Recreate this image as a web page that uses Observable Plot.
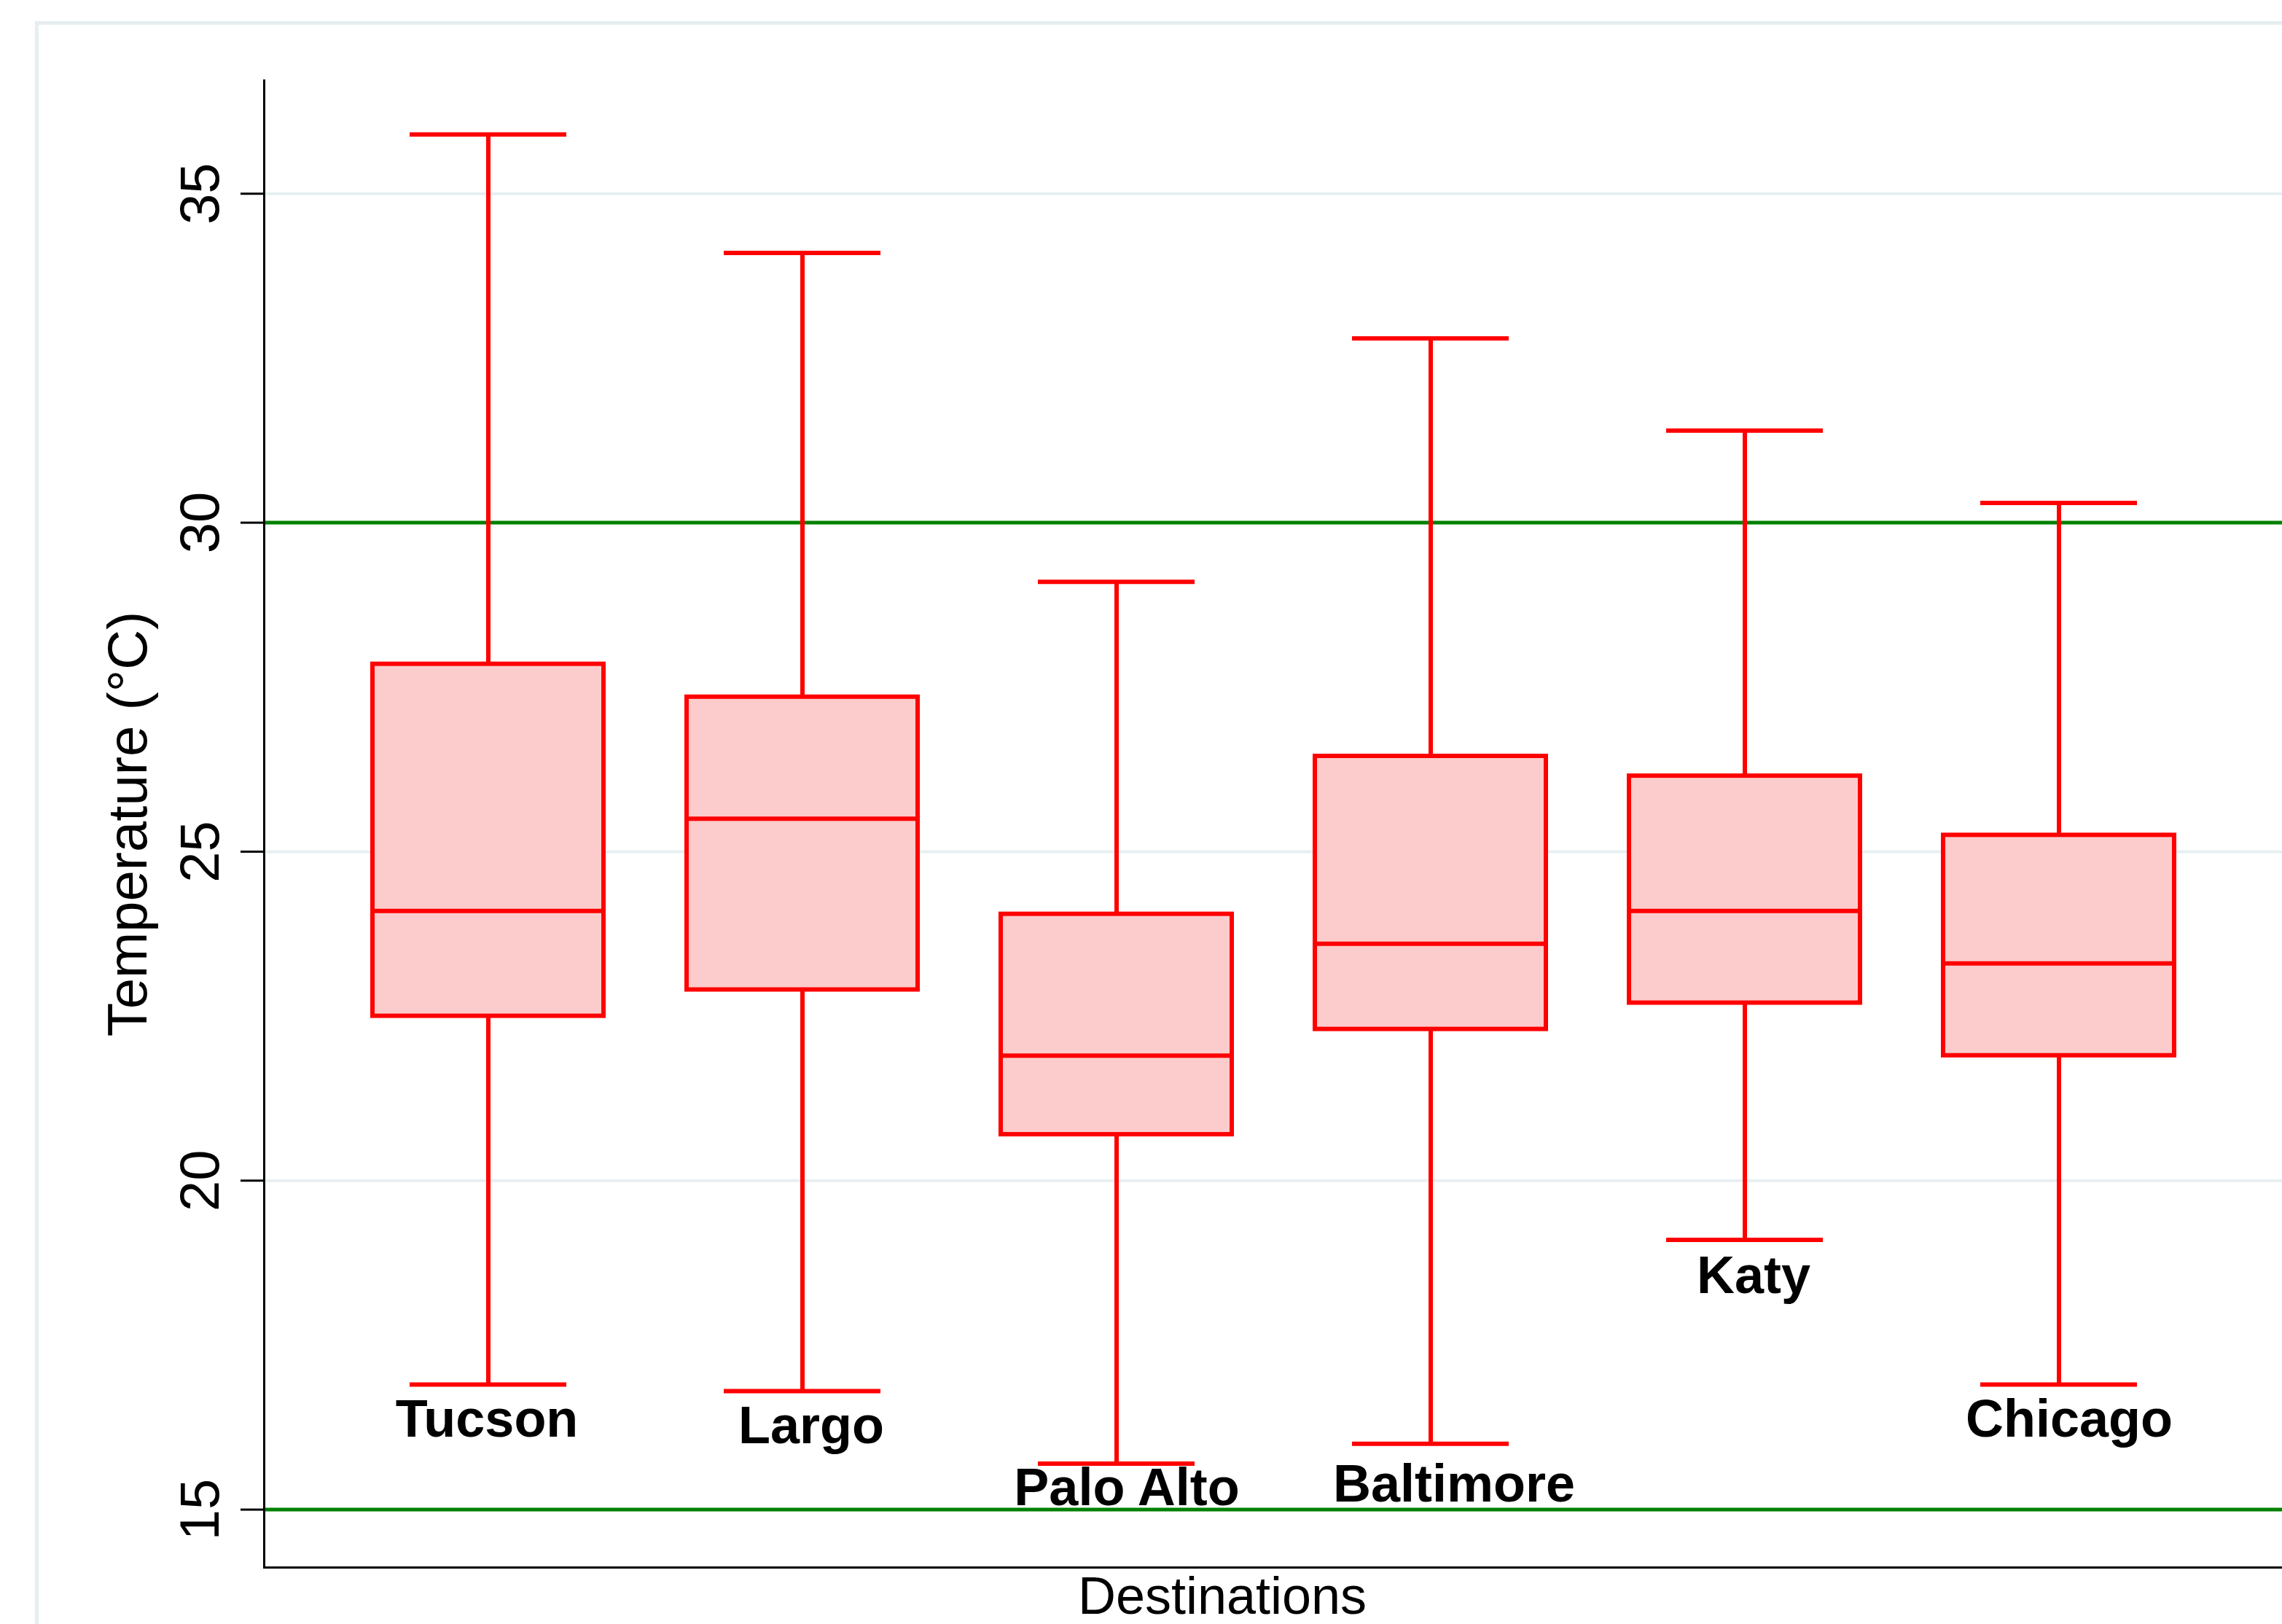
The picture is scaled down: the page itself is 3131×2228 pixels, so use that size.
<!DOCTYPE html>
<html>
<head>
<meta charset="utf-8">
<script src="https://cdn.jsdelivr.net/npm/d3@7"></script>
<script src="https://cdn.jsdelivr.net/npm/@observablehq/plot@0.6"></script>
<style>
  html, body { margin: 0; padding: 0; background: #fff; overflow: hidden; }
</style>
</head>
<body>
<div id="chart"></div>
<script>
// Data (temperature, °C)
const cities      = ["Tucson", "Largo", "Palo Alto", "Baltimore", "Katy", "Chicago"];
const whiskerHigh = [35.9, 34.1, 29.1, 32.8, 31.4, 30.3];
const q3          = [27.85, 27.35, 24.05, 26.45, 26.15, 25.25];
const median      = [24.1, 25.5, 21.9, 23.6, 24.1, 23.3];
const q1          = [22.5, 22.9, 20.7, 22.3, 22.7, 21.9];
const whiskerLow  = [16.9, 16.8, 15.7, 16.0, 19.1, 16.9];
const yTicks      = [15, 20, 25, 30, 35];
const refLines    = [15, 30];
const yLabel      = "Temperature (°C)";
const xLabel      = "Destinations";

const rows = cities.map((city, i) => ({
  city, high: whiskerHigh[i], q3: q3[i], median: median[i], q1: q1[i], low: whiskerLow[i]
}));

const RED = "#ff0000";
const FILL = "#fccccc";
const GRID = "#e8eff1";
const GREEN = "#008000";

// small per-label nudges (pixels) for the category labels under the whiskers
const labelNudge = {
  "Tucson": [-2, 20], "Largo": [12, 20], "Palo Alto": [14, 6],
  "Baltimore": [32, 28], "Katy": [12, 22], "Chicago": [14, 20]
};

const labelMarks = rows.map(r => Plot.text([r], {
  x: "city", y: "low", text: "city", lineAnchor: "top",
  dx: labelNudge[r.city][0], dy: labelNudge[r.city][1],
  fontWeight: "bold", fontSize: 72, fill: "#000"
}));

const chart = Plot.plot({
  width: 3131,
  height: 2228,
  marginLeft: 362,
  marginRight: 0,
  marginTop: 110,
  marginBottom: 78,
  style: {fontFamily: "'Liberation Sans', Arial, sans-serif", fontSize: "76px", background: "#fff", color: "#000"},
  x: {domain: cities, paddingInner: 0, paddingOuter: 0.208, axis: null},
  y: {domain: [14.12, 36.72], axis: null},
  marks: [
    // outer light frame of the graph region
    Plot.frame({stroke: "#e6eef0", strokeWidth: 5, insetLeft: -312, insetTop: -79, insetRight: -60, insetBottom: -200}),
    // grid lines
    Plot.ruleY(yTicks, {stroke: GRID, strokeWidth: 4}),
    // reference lines
    Plot.ruleY(refLines, {stroke: GREEN, strokeWidth: 5}),
    // whiskers
    Plot.ruleX(rows, {x: "city", y1: "q3", y2: "high", stroke: RED, strokeWidth: 6}),
    Plot.ruleX(rows, {x: "city", y1: "low", y2: "q1", stroke: RED, strokeWidth: 6}),
    Plot.tickY(rows, {x: "city", y: "high", stroke: RED, strokeWidth: 6, inset: 108}),
    Plot.tickY(rows, {x: "city", y: "low", stroke: RED, strokeWidth: 6, inset: 108}),
    // boxes
    Plot.barY(rows, {x: "city", y1: "q1", y2: "q3", fill: FILL, stroke: RED, strokeWidth: 6, insetLeft: 57, insetRight: 57}),
    Plot.tickY(rows, {x: "city", y: "median", stroke: RED, strokeWidth: 6, inset: 57}),
    // category labels under the lower whiskers
    ...labelMarks,
    // axes lines
    Plot.frame({anchor: "left", stroke: "#000", strokeWidth: 3}),
    Plot.frame({anchor: "bottom", stroke: "#000", strokeWidth: 3}),
    Plot.axisY({ticks: yTicks, tickSize: 32, tickPadding: 31, tickRotate: -90, fontSize: 76, strokeWidth: 3, label: null, tickFormat: d => String(d)}),
    // axis titles
    Plot.text([yLabel], {frameAnchor: "left", rotate: -90, textAnchor: "middle", lineAnchor: "bottom", dx: -162, fontSize: 76, fill: "#000"}),
    Plot.text([xLabel], {frameAnchor: "bottom", textAnchor: "middle", lineAnchor: "top", dy: 12, dx: -70, fontSize: 72, fill: "#000"})
  ]
});
document.getElementById("chart").append(chart);
</script>
</body>
</html>
